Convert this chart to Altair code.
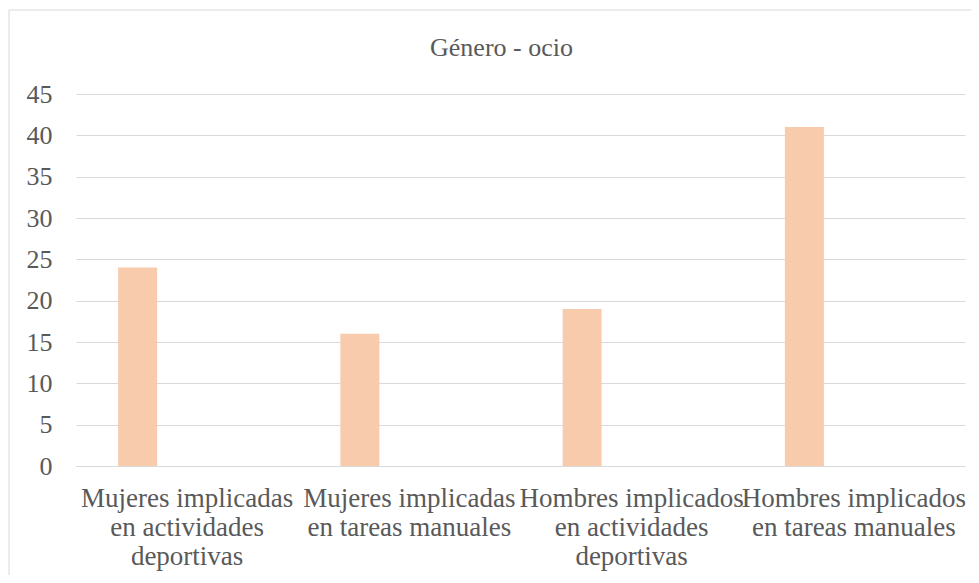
import altair as alt
import pandas as pd

categories = [
    "Mujeres implicadas en actividades deportivas",
    "Mujeres implicadas en tareas manuales",
    "Hombres implicados en actividades deportivas",
    "Hombres implicados en tareas manuales",
]
label_lines = [
    ["Mujeres implicadas", "en actividades", "deportivas"],
    ["Mujeres implicadas", "en tareas manuales"],
    ["Hombres implicados", "en actividades", "deportivas"],
    ["Hombres implicados", "en tareas manuales"],
]
values = [24, 16, 19, 41]
y_ticks = [0, 5, 10, 15, 20, 25, 30, 35, 40, 45]

df = pd.DataFrame({"categoria": categories, "valor": values})

label_map = "{" + ", ".join(
    "'" + c + "': [" + ", ".join("'" + l + "'" for l in lines) + "]"
    for c, lines in zip(categories, label_lines)
) + "}"

FONT = "'Liberation Serif', 'Times New Roman', 'DejaVu Serif', serif"
GRAY = "#595959"
GRID = "#D9D9D9"

frame = alt.Chart(pd.DataFrame({"k": [0]})).mark_rect(
    fill=None, stroke=GRID, strokeWidth=1, clip=False
).encode(
    x=alt.value(-67), x2=alt.value(915), y=alt.value(-84), y2=alt.value(500)
)

bars = alt.Chart(df).mark_bar(
    color="#F8CBAD", width=39, xOffset=-49.5
).encode(
    x=alt.X(
        "categoria:N",
        sort=categories,
        scale=alt.Scale(paddingInner=0, paddingOuter=0),
        axis=alt.Axis(
            title=None,
            labelAngle=0,
            labelExpr=label_map + "[datum.label]",
            labelFont=FONT,
            labelFontSize=27,
            labelColor=GRAY,
            labelLineHeight=29,
            labelPadding=19,
            labelLimit=0,
            labelOverlap=False,
            labelBound=False,
            ticks=False,
            domain=True,
            domainColor=GRID,
            domainWidth=1,
            grid=False,
        ),
    ),
    y=alt.Y(
        "valor:Q",
        scale=alt.Scale(domain=[0, 45], nice=False),
        axis=alt.Axis(
            title=None,
            values=y_ticks,
            labelFont=FONT,
            labelFontSize=26,
            labelColor=GRAY,
            labelPadding=24,
            ticks=False,
            domain=False,
            grid=True,
            gridColor=GRID,
            gridWidth=1,
        ),
    ),
)

chart = alt.layer(frame, bars).properties(
    width=889,
    height=372,
    autosize=alt.AutoSizeParams(type="none"),
    padding={"left": 68, "top": 86, "right": 6, "bottom": 109},
    title=alt.TitleParams(
        "Género - ocio",
        font=FONT,
        fontSize=26,
        fontWeight="normal",
        color=GRAY,
        anchor="middle",
        frame="group",
        baseline="alphabetic",
        offset=0,
        dy=72,
        dx=-19,
    ),
).configure_view(stroke=None)

chart.save("out.html", embed_options={"renderer": "svg", "actions": False})
